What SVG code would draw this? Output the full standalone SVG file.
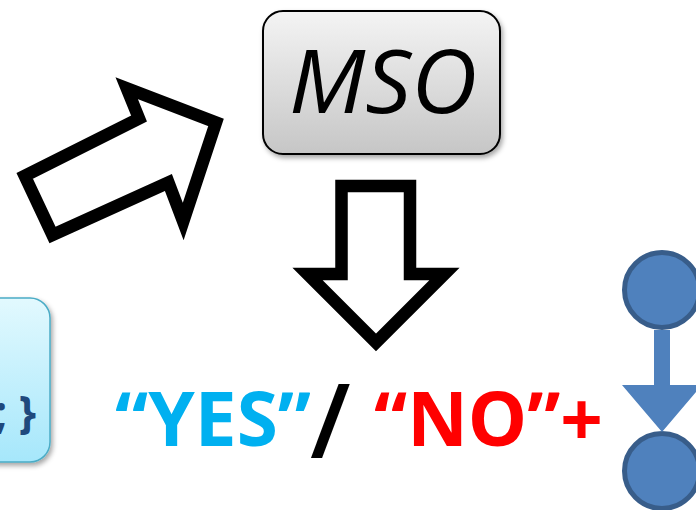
<svg xmlns="http://www.w3.org/2000/svg" width="696" height="510" viewBox="0 0 696 510">
  <defs>
    <linearGradient id="gradGray" x1="0" y1="0" x2="0" y2="1">
      <stop offset="0" stop-color="#f4f4f4"/>
      <stop offset="1" stop-color="#c6c6c6"/>
    </linearGradient>
    <linearGradient id="gradCyan" x1="0" y1="0" x2="0" y2="1">
      <stop offset="0" stop-color="#e2f9fe"/>
      <stop offset="1" stop-color="#a6e7fb"/>
    </linearGradient>
    <filter id="shadow" x="-20%" y="-20%" width="140%" height="150%">
      <feDropShadow dx="2" dy="3" stdDeviation="2.5" flood-color="#000" flood-opacity="0.35"/>
    </filter>
  </defs>
  <style>
    .block { fill: none; stroke: #000; stroke-width: 12.5; stroke-linejoin: miter; stroke-miterlimit: 6; }
    .vertex { fill: #4f81bd; stroke: #385d8a; stroke-width: 5; }
    .edge { fill: #4f81bd; stroke: none; }
    .big { font-family: "Open Sans", "Liberation Sans", sans-serif; font-weight: bold; }
  </style>

  <!-- code box, cut off at the left edge -->
  <g id="code">
    <rect x="-150" y="298" width="200" height="164" rx="20" ry="20" fill="url(#gradCyan)" stroke="#4bacc6" stroke-width="1.5" filter="url(#shadow)"/>
    <text x="36" y="428" text-anchor="end" class="big" font-size="44" fill="#1f497d">; }</text>
  </g>

  <!-- MSO box -->
  <g id="mso">
    <rect x="263" y="11" width="237" height="143" rx="20" ry="20" fill="url(#gradGray)" stroke="#000" stroke-width="2" filter="url(#shadow)"/>
    <text x="383" y="113" text-anchor="middle" font-family="Open Sans, Liberation Sans, sans-serif" font-style="italic" font-size="88" fill="#000" textLength="188" lengthAdjust="spacingAndGlyphs">MSO</text>
  </g>

  <!-- answer line -->
  <g id="answer">
    <text x="115" y="446" class="big" font-size="76" fill="#00b0f0" textLength="196" lengthAdjust="spacingAndGlyphs">“YES”</text>
    <text x="310" y="458" font-family="Open Sans, Liberation Sans, sans-serif" font-weight="600" font-size="104" fill="#000">/</text>
    <text x="374" y="446" class="big" font-size="76" fill="#ff0000" textLength="229" lengthAdjust="spacingAndGlyphs">“NO”+</text>
  </g>

  <!-- counterexample graph -->
  <g id="v1">
    <circle cx="662" cy="290" r="37.5" class="vertex"/>
  </g>
  <g id="v2">
    <circle cx="662" cy="471" r="37.5" class="vertex"/>
  </g>

  <g id="connectors">
    <!-- code to MSO -->
    <path class="block" d="M24.7,175.9 L52.5,235 L168.4,182.5 L183.2,221.5 L216,122.5 L126.7,88.2 L139,118.5 Z"/>
    <!-- MSO to answer -->
    <path class="block" d="M341.5,186 H410 V274 H444.5 L376,342.5 L307.5,274 H341.5 Z"/>
    <!-- graph edge -->
    <path class="edge" d="M654,330 H670 V385 H702 L662,432 L622,385 H654 Z"/>
  </g>
</svg>
